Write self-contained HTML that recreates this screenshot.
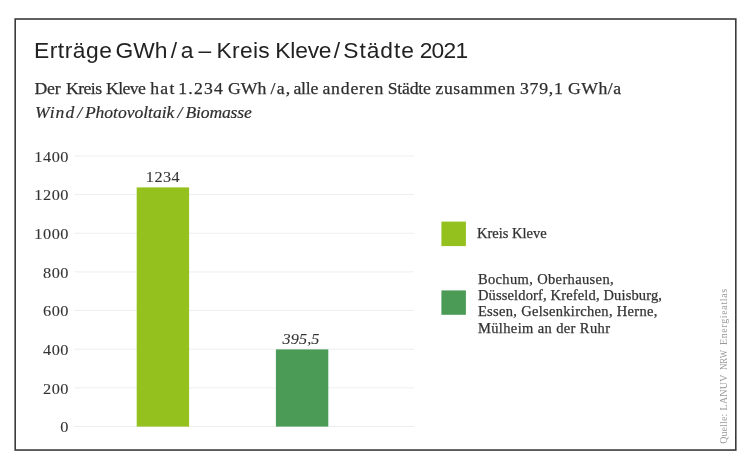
<!DOCTYPE html>
<html lang="de"><head><meta charset="utf-8"><title>Erträge GWh/a – Kreis Kleve/Städte 2021</title>
<style>
html,body{margin:0;padding:0;background:#fff;}
body{width:751px;height:469px;position:relative;overflow:hidden;font-family:"Liberation Serif",serif;color:#2b2b2b;}
.gfx{position:absolute;left:0;top:0;}
.t{position:absolute;white-space:nowrap;line-height:1;}
.title{top:39.4px;font-family:"Liberation Sans",sans-serif;font-size:22.8px;color:#222;}
.sub{transform:translateY(0.55px);top:79px;font-size:17.7px;color:#2e2e2e;-webkit-text-stroke:0.25px #2e2e2e;}
.ital{top:104.2px;font-size:17.6px;font-style:italic;color:#2e2e2e;-webkit-text-stroke:0.2px #2e2e2e;}
.yl{-webkit-text-stroke:0.1px #383838;position:absolute;width:60px;left:9.2px;text-align:right;font-size:15px;line-height:1;color:#333;transform-origin:100% 50%;transform:scaleX(1.09);letter-spacing:0.45px;}
.val{-webkit-text-stroke:0.1px #383838;position:absolute;text-align:center;font-size:15px;line-height:1;color:#333;transform:scaleX(1.08);letter-spacing:0.45px;}
.lg{position:absolute;left:477.9px;-webkit-text-stroke:0.25px #333;font-size:14.5px;line-height:16.2px;color:#333;white-space:nowrap;}
.src{position:absolute;left:719px;top:443.5px;width:160px;height:10px;transform-origin:0 0;transform:rotate(-90deg);font-size:10px;color:#999;white-space:nowrap;line-height:1;}
.src span{position:absolute;top:0;transform-origin:0 50%;}
</style></head><body>
<svg class="gfx" width="751" height="469" viewBox="0 0 751 469">
<rect x="15.2" y="19" width="720.6" height="431.05" fill="none" stroke="#3a3a3a" stroke-width="1.6"/>
<g stroke="#eeeeee" stroke-width="1">
<line x1="74.4" x2="414" y1="155.95" y2="155.95"/>
<line x1="74.4" x2="414" y1="194.60" y2="194.60"/>
<line x1="74.4" x2="414" y1="233.25" y2="233.25"/>
<line x1="74.4" x2="414" y1="271.90" y2="271.90"/>
<line x1="74.4" x2="414" y1="310.55" y2="310.55"/>
<line x1="74.4" x2="414" y1="349.20" y2="349.20"/>
<line x1="74.4" x2="414" y1="387.85" y2="387.85"/>
<line x1="74.4" x2="414" y1="426.50" y2="426.50"/>
</g>
<rect x="136.7" y="187.4" width="52.4" height="239.2" fill="#95c11f"/>
<rect x="275.9" y="349.4" width="52.4" height="77.2" fill="#4b9b57"/>
<rect x="441.4" y="221.6" width="24.5" height="24.5" fill="#95c11f"/>
<rect x="441.4" y="290.4" width="24.5" height="24.4" fill="#4b9b57"/>
</svg>
<div class="t title" style="left:33.9px;letter-spacing:0.55px">Erträge</div>
<div class="t title" style="left:115.4px;letter-spacing:0.05px">GWh</div>
<div class="t title" style="left:170.7px;letter-spacing:0.00px">/</div>
<div class="t title" style="left:180.8px;letter-spacing:0.00px">a</div>
<div class="t title" style="left:198.6px;letter-spacing:0.00px">–</div>
<div class="t title" style="left:216.6px;letter-spacing:0.30px">Kreis</div>
<div class="t title" style="left:275.3px;letter-spacing:-0.20px">Kleve</div>
<div class="t title" style="left:333.8px;letter-spacing:0.00px">/</div>
<div class="t title" style="left:343.3px;letter-spacing:0.95px">Städte</div>
<div class="t title" style="left:419.7px;letter-spacing:-0.75px">2021</div>
<div class="t sub" style="left:34.5px;letter-spacing:-0.20px">Der</div>
<div class="t sub" style="left:66.1px;letter-spacing:-0.58px">Kreis</div>
<div class="t sub" style="left:106.1px;letter-spacing:-0.65px">Kleve</div>
<div class="t sub" style="left:150.3px;letter-spacing:1.20px">hat</div>
<div class="t sub" style="left:178.3px;letter-spacing:1.21px">1.234</div>
<div class="t sub" style="left:228.1px;letter-spacing:0.00px">GWh</div>
<div class="t sub" style="left:270.6px;letter-spacing:1.24px">/a,</div>
<div class="t sub" style="left:293.5px;letter-spacing:-0.25px">alle</div>
<div class="t sub" style="left:322.4px;letter-spacing:0.82px">anderen</div>
<div class="t sub" style="left:387.7px;letter-spacing:-0.20px">Städte</div>
<div class="t sub" style="left:435.5px;letter-spacing:0.56px">zusammen</div>
<div class="t sub" style="left:519.9px;letter-spacing:0.81px">379,1</div>
<div class="t sub" style="left:568.1px;letter-spacing:0.46px">GWh/a</div>
<div class="t ital" style="left:35px;letter-spacing:1.02px">Wind</div>
<div class="t ital" style="left:77.3px;letter-spacing:0.00px">/</div>
<div class="t ital" style="left:84.9px;letter-spacing:-0.04px">Photovoltaik</div>
<div class="t ital" style="left:177.5px;letter-spacing:0.00px">/</div>
<div class="t ital" style="left:185.5px;letter-spacing:-0.17px">Biomasse</div>
<div class="yl" style="top:149.6px">1400</div>
<div class="yl" style="top:188.3px">1200</div>
<div class="yl" style="top:226.9px">1000</div>
<div class="yl" style="top:265.6px">800</div>
<div class="yl" style="top:304.2px">600</div>
<div class="yl" style="top:342.9px">400</div>
<div class="yl" style="top:381.6px">200</div>
<div class="yl" style="top:420.2px">0</div>
<div class="val" style="left:123.2px;width:80px;top:170px;">1234</div>
<div class="val" style="left:260.5px;width:80px;top:331.7px;font-style:italic;letter-spacing:0.1px;">395,5</div>
<div class="lg" style="left:477px;top:225.2px">Kreis Kleve</div>
<div class="lg" style="top:270.9px;letter-spacing:0.36px">Bochum, Oberhausen,</div>
<div class="lg" style="top:287.1px;letter-spacing:0.15px">Düsseldorf, Krefeld, Duisburg,</div>
<div class="lg" style="top:303.3px;letter-spacing:0.31px">Essen, Gelsenkirchen, Herne,</div>
<div class="lg" style="top:319.5px;letter-spacing:0.38px">Mülheim an der Ruhr</div>
<div class="src"><span style="left:0.2px;letter-spacing:0.1px">Quelle:</span> <span style="left:33.5px;letter-spacing:0.27px">LANUV</span> <span style="left:74px;transform:scaleX(0.88)">NRW</span> <span style="left:99px;letter-spacing:0.63px">Energieatlas</span></div>
</body></html>
